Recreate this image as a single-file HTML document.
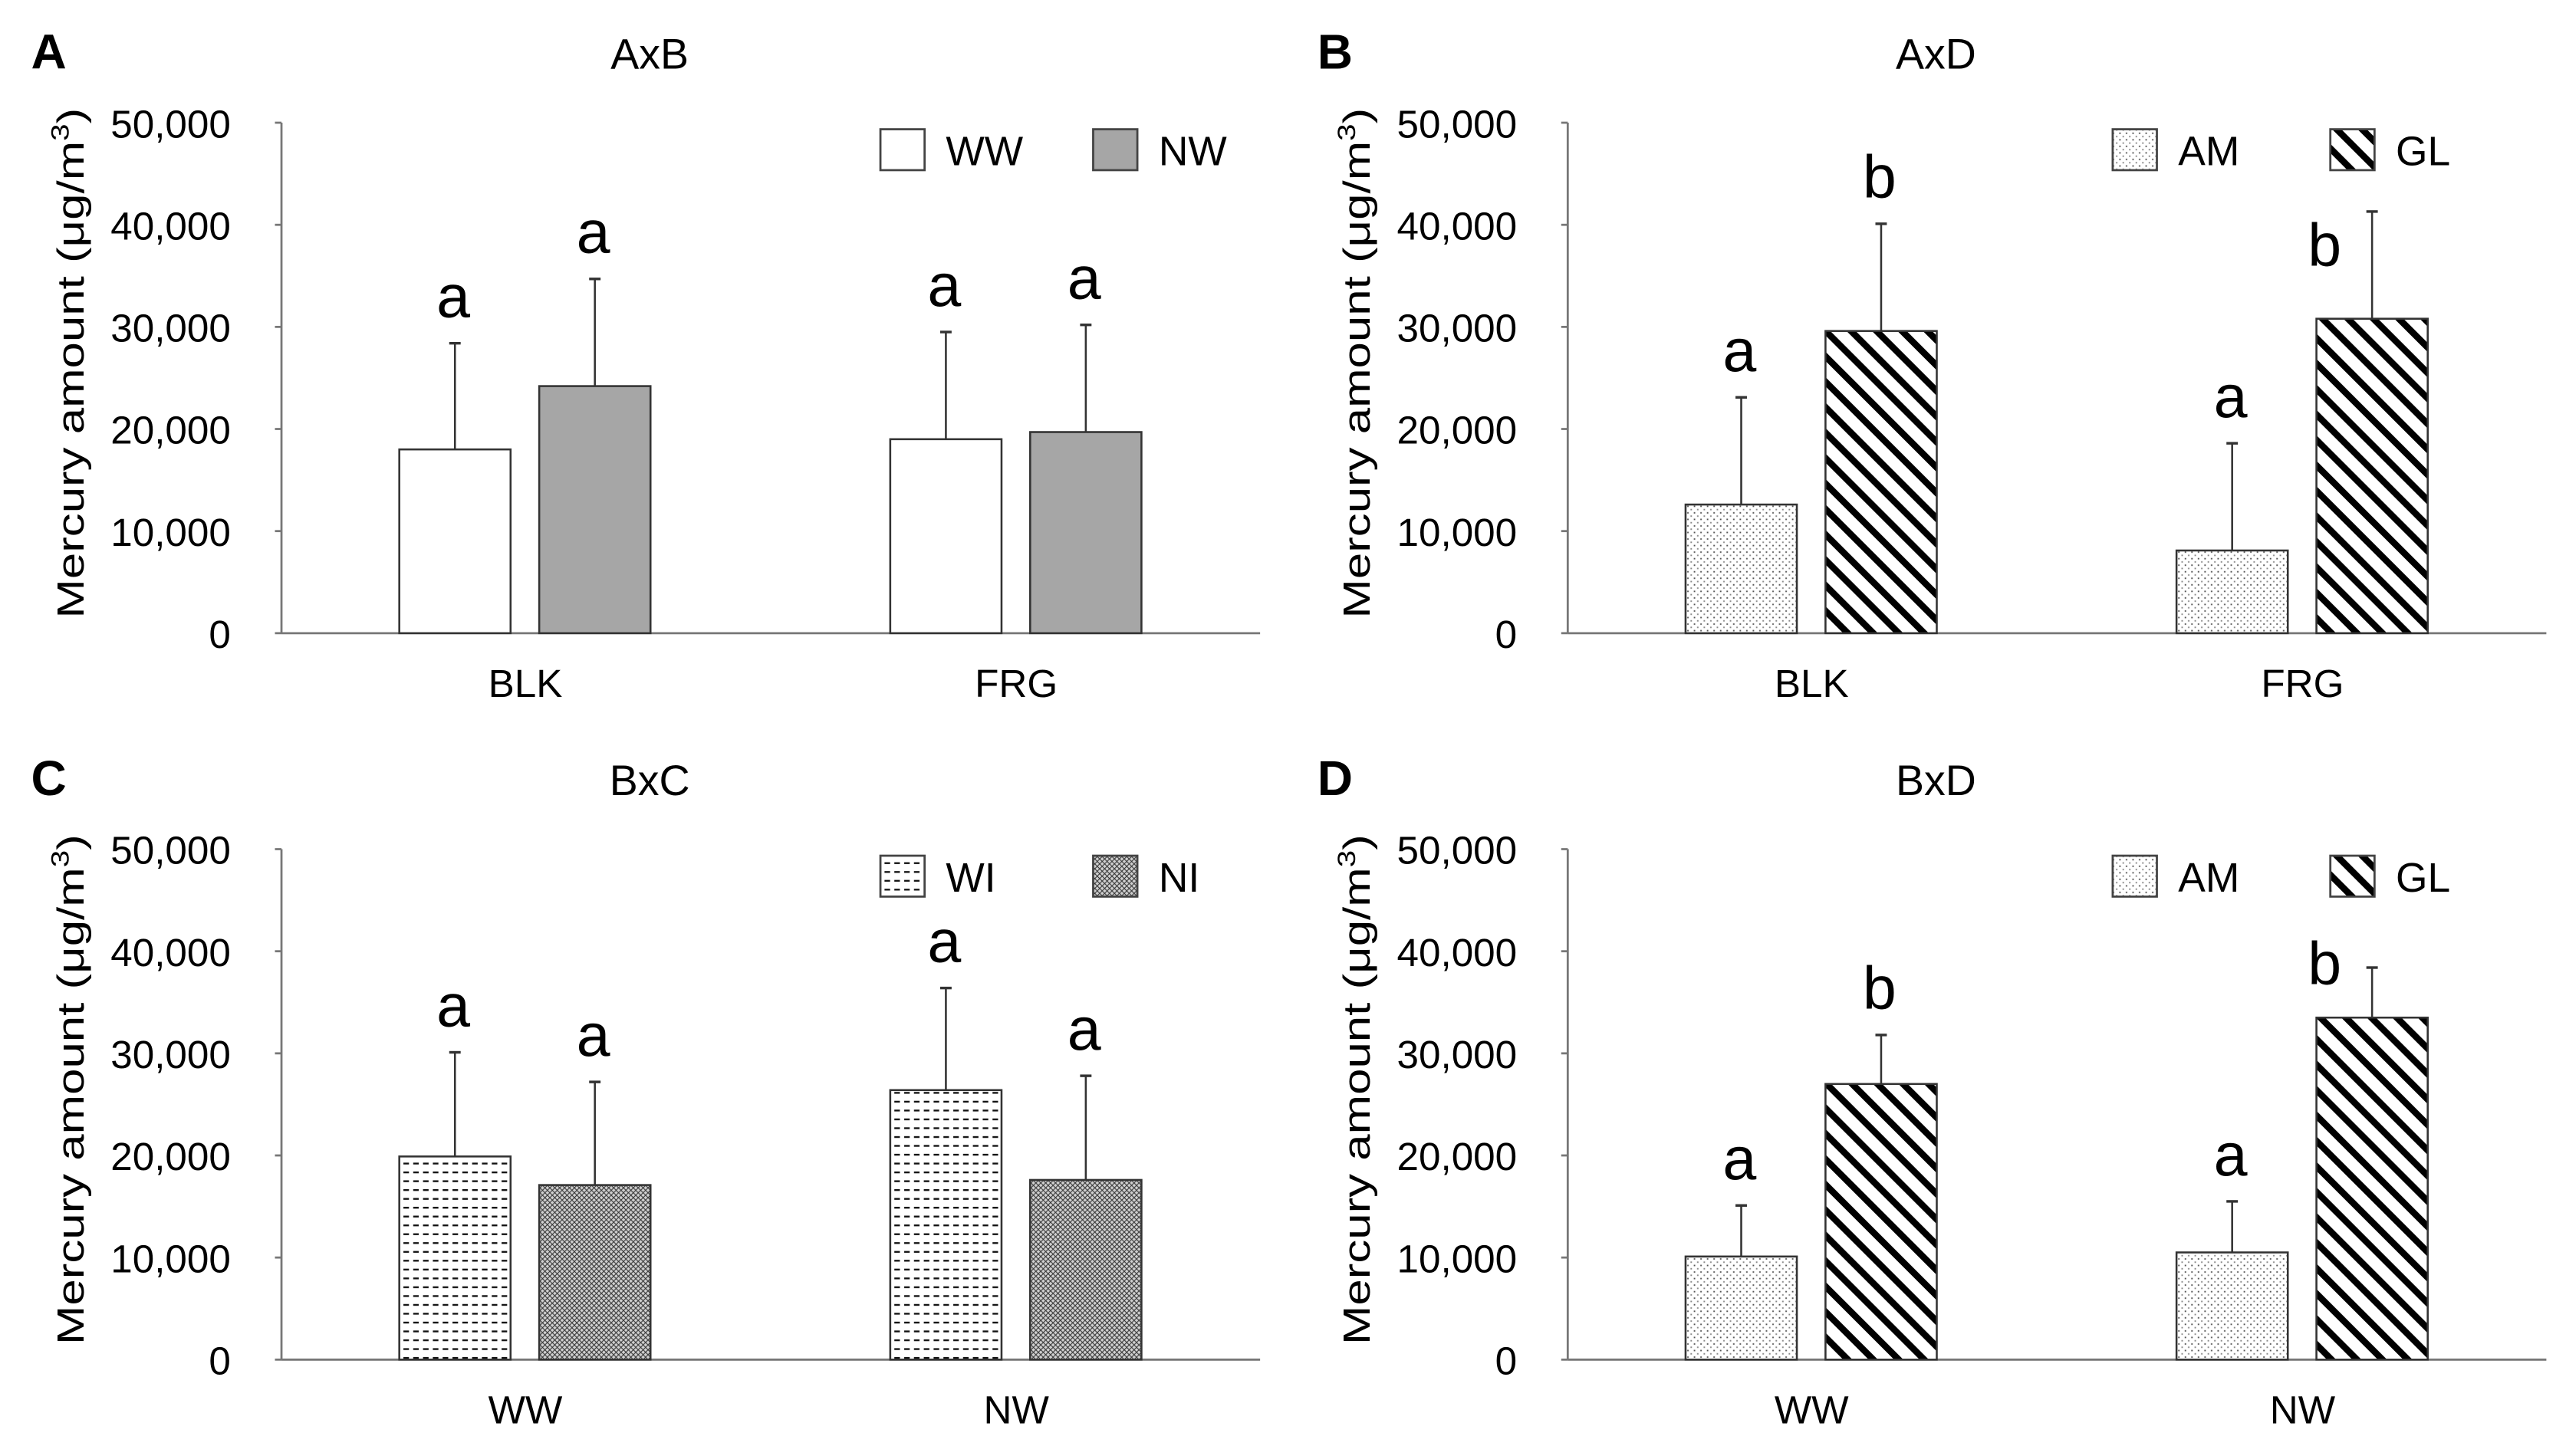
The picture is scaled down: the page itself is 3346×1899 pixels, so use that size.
<!DOCTYPE html>
<html><head><meta charset="utf-8"><style>
html,body{margin:0;padding:0;background:#fff}
svg{display:block}
text{font-family:"Liberation Sans",Arial,sans-serif;fill:#000}
</style></head><body>
<svg id="fig" width="3346" height="1899" viewBox="0 0 1568 889.9" preserveAspectRatio="none" xmlns="http://www.w3.org/2000/svg">
<defs>
<pattern id="pat-dots" patternUnits="userSpaceOnUse" width="4" height="4"><rect width="4" height="4" fill="#fff"/><rect x="1" y="1" width="0.9" height="0.9" fill="#555"/><rect x="3" y="3" width="0.9" height="0.9" fill="#888"/></pattern>
<pattern id="pat-diag" patternUnits="userSpaceOnUse" width="11" height="11" patternTransform="rotate(-45)"><rect width="11" height="11" fill="#fff"/><rect x="0" y="0" width="4" height="11" fill="#000"/></pattern>
<pattern id="pat-dash" patternUnits="userSpaceOnUse" width="6" height="5.4"><rect width="6" height="5.4" fill="#fff"/><rect x="0.5" y="2" width="3.4" height="1.1" fill="#111"/></pattern>
<pattern id="pat-cross" patternUnits="userSpaceOnUse" width="3" height="3"><rect width="3" height="3" fill="#d0d0d0"/><path d="M0,0L3,3M3,0L0,3" stroke="#333" stroke-width="0.5"/></pattern>
</defs>
<g id="root"></g>
</svg>
<script>
// Panel data
const panelLetters = ["A","B","C","D"];
const panelTitles = ["AxB","AxD","BxC","BxD"];
const categoriesA = ["BLK","FRG"];
const categoriesB = ["BLK","FRG"];
const categoriesC = ["WW","NW"];
const categoriesD = ["WW","NW"];
const seriesNamesA = ["WW","NW"];
const seriesNamesB = ["AM","GL"];
const seriesNamesC = ["WI","NI"];
const seriesNamesD = ["AM","GL"];
const valuesA1 = [18000, 19000];
const valuesA2 = [24200, 19700];
const errorsA1 = [28400, 29500];
const errorsA2 = [34700, 30200];
const valuesB1 = [12600, 8100];
const valuesB2 = [29600, 30800];
const errorsB1 = [23100, 18600];
const errorsB2 = [40100, 41300];
const valuesC1 = [19900, 26400];
const valuesC2 = [17100, 17600];
const errorsC1 = [30100, 36400];
const errorsC2 = [27200, 27800];
const valuesD1 = [10100, 10500];
const valuesD2 = [27000, 33500];
const errorsD1 = [15100, 15500];
const errorsD2 = [31800, 38400];
const lettersA1 = ["a","a"], lettersA2 = ["a","a"];
const lettersB1 = ["a","a"], lettersB2 = ["b","b"];
const lettersC1 = ["a","a"], lettersC2 = ["a","a"];
const lettersD1 = ["a","a"], lettersD2 = ["b","b"];
const yTicks = [0, 10000, 20000, 30000, 40000, 50000];
const yTickLabels = ["0","10,000","20,000","30,000","40,000","50,000"];
const yMax = 50000;

const NS = "http://www.w3.org/2000/svg";
const root = document.getElementById("root");
function mk(tag, attrs, parent, txt){
  const e = document.createElementNS(NS, tag);
  for (const k in attrs) e.setAttribute(k, attrs[k]);
  if (txt !== undefined) e.textContent = txt;
  (parent||root).appendChild(e);
  return e;
}
const panels = [
  {ox:0, oy:0, cats:categoriesA, names:seriesNamesA, v1:valuesA1, v2:valuesA2, e1:errorsA1, e2:errorsA2, l1:lettersA1, l2:lettersA2, f1:"#fff", f2:"#a6a6a6", shift:[[0,0],[0,0]]},
  {ox:786, oy:0, cats:categoriesB, names:seriesNamesB, v1:valuesB1, v2:valuesB2, e1:errorsB1, e2:errorsB2, l1:lettersB1, l2:lettersB2, f1:"url(#pat-dots)", f2:"url(#pat-diag)", shift:[[0,0],[-28,49]]},
  {ox:0, oy:444, cats:categoriesC, names:seriesNamesC, v1:valuesC1, v2:valuesC2, e1:errorsC1, e2:errorsC2, l1:lettersC1, l2:lettersC2, f1:"url(#pat-dash)", f2:"url(#pat-cross)", shift:[[0,0],[0,0]]},
  {ox:786, oy:444, cats:categoriesD, names:seriesNamesD, v1:valuesD1, v2:valuesD2, e1:errorsD1, e2:errorsD2, l1:lettersD1, l2:lettersD2, f1:"url(#pat-dots)", f2:"url(#pat-diag)", shift:[[0,0],[-28,26]]}
];
panels.forEach((p, pi) => {
  const g = mk("g", {transform:`translate(${p.ox},${p.oy})`});
  
  
  const ax = 172, y0 = 387, yTop = 75, axEnd = 770;
  const y = v => y0 - v / yMax * (y0 - yTop);
  const catX = i => ax + 149 + i * 300;
  const pl = mk("text", {x:19, y:42, "font-size":30, "font-weight":"bold"}, g, panelLetters[pi]);
  
  
  const tt = mk("text", {x:397, y:42, "font-size":26, "text-anchor":"middle"}, g, panelTitles[pi]);
  
  
  const yt = mk("text", {transform:`translate(51,${(y0+yTop)/2-9}) rotate(-90)`, "font-size":23, "text-anchor":"middle", textLength:312, lengthAdjust:"spacingAndGlyphs"}, g);
  
  
  mk("tspan", {}, yt, "Mercury amount (μg/m");
  mk("tspan", {"font-size":15, dy:-9}, yt, "3");
  mk("tspan", {dy:9}, yt, ")");
  const yl = mk("line", {x1:ax, y1:yTop, x2:ax, y2:y0, stroke:"#777", "stroke-width":1.3}, g);
  
  
  const xl = mk("line", {x1:ax, y1:y0, x2:axEnd, y2:y0, stroke:"#777", "stroke-width":1.3}, g);
  
  
  yTicks.forEach((t, i) => {
    const tk = mk("line", {x1:ax-4, y1:y(t), x2:ax, y2:y(t), stroke:"#777", "stroke-width":1.3}, g);
    
    
    const tl = mk("text", {x:141, y:y(t)+9, "font-size":24, "text-anchor":"end"}, g, yTickLabels[i]);
    
    
  });
  p.cats.forEach((c, i) => {
    const cl = mk("text", {x:catX(i), y:426, "font-size":24, "text-anchor":"middle"}, g, c);
    
    
    const series = [[p.v1, p.e1, p.l1, p.f1, -43], [p.v2, p.e2, p.l2, p.f2, 42.5]];
    series.forEach((s, si) => {
      const cx = catX(i) + s[4];
      const v = s[0][i], e = s[1][i];
      const b = mk("rect", {x:cx-34, y:y(v), width:68, height:y0-y(v), fill:s[3], stroke:"#333", "stroke-width":1.2}, g);
      
      
      const el = mk("line", {x1:cx, y1:y(v), x2:cx, y2:y(e), stroke:"#333", "stroke-width":1.2}, g);
      
      
      const ec = mk("line", {x1:cx-3.5, y1:y(e), x2:cx+3.5, y2:y(e), stroke:"#333", "stroke-width":1.6}, g);
      
      
      const sh = (i === 1 && si === 1) ? p.shift[1] : [0,0];
      const lt = mk("text", {x:cx-1+sh[0], y:y(e)-16+sh[1], "font-size":37, "text-anchor":"middle"}, g, s[2][i]);
      
      
    });
  });
  const legX = pi % 2 === 0 ? [538, 668] : [505, 638];
  [0,1].forEach(k => {
    const lb = mk("rect", {x:legX[k], y:79, width:27, height:25, fill:k===0?p.f1:p.f2, stroke:"#444", "stroke-width":1.3}, g);
    
    
    const lx = mk("text", {x:legX[k]+40, y:101, "font-size":25}, g, p.names[k]);
    
    
  });
});
</script>
</body></html>
